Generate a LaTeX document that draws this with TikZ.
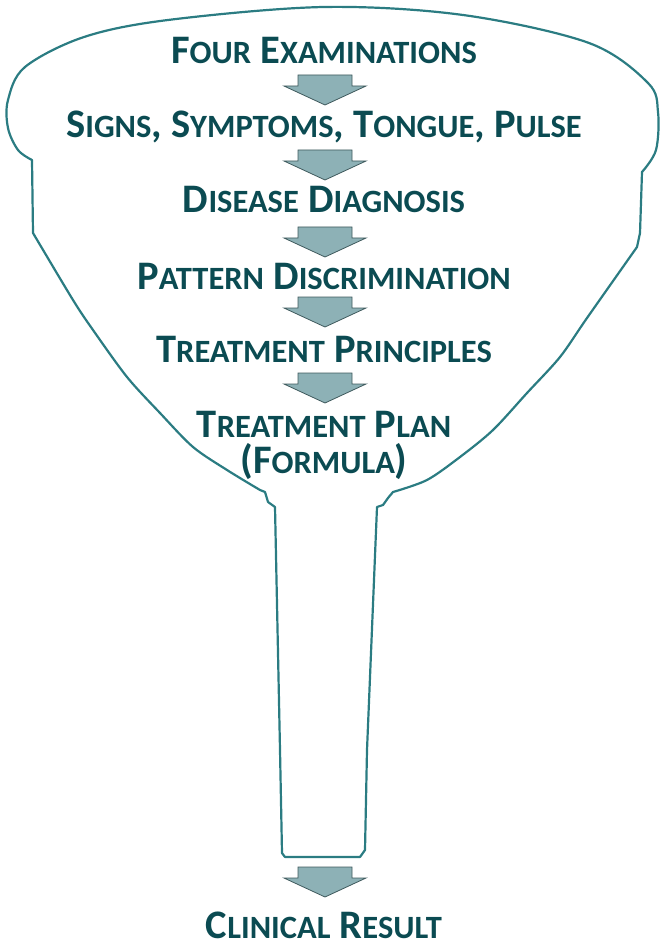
\documentclass[tikz,border=0pt]{standalone}
\usepackage{fontspec}
\setmainfont{Carlito}
\definecolor{txt}{HTML}{0B4B52}
\definecolor{outl}{HTML}{2B7C82}
\definecolor{arrfill}{HTML}{8DB1B6}
\definecolor{arredge}{HTML}{3F5A5D}
\newcommand\sml[1]{{\fontsize{32.5}{32.5}\selectfont #1}}
\tikzset{
  label text/.style={text=txt, anchor=base, inner sep=0pt, font=\bfseries\fontsize{40.5}{40.5}\selectfont},
  funnel/.style={draw=outl, line width=2.2pt, line join=round},
  flowarrow/.style={fill=arrfill, draw=arredge, line width=0.8pt, line join=miter}
}
\begin{document}
\begin{tikzpicture}[x=1pt,y=-1pt]
\useasboundingbox (0,0) rectangle (660,949);
% funnel outline
\draw[funnel] plot[smooth,tension=0.55] coordinates {(32,160)(18,150)(8,128)(8,100)(25,67)(84,37)(168,20)(324,7)(463,15)(589,43)(648,83)(658,112)(656,150)(642,172)}
  -- (640,233) -- (637,247)
  -- plot[smooth,tension=0.5] coordinates {(637,247)(587,318)(560,357)(527,393)(493,430)(460,457)(427,480)(393,492)}
  -- (388,498) -- (383,505) -- (377,507) -- (367,750) -- (365,850) -- (360,857) -- (285,857) -- (282,853) -- (280,750) -- (275,507) -- (268,502) -- (265,492)
  -- plot[smooth,tension=0.5] coordinates {(260,490)(227,470)(193,447)(160,413)(127,377)(93,330)(73,300)(33,233)}
  -- cycle;
% arrows
\foreach \y in {75,150,227,297,373,867}{
  \draw[flowarrow] (298,\y) -- (352,\y) -- (352,\y+11) -- (366,\y+11) -- (325,\y+30) -- (284,\y+11) -- (298,\y+11) -- cycle;
}
% texts
\node[label text] (t1) at (324,64) {F\sml{OUR} E\sml{XAMINATIONS}};
\node[label text] (t2) at (324,138) {S\sml{IGNS}, S\sml{YMPTOMS}, T\sml{ONGUE}, P\sml{ULSE}};
\node[label text] (t3) at (324,213) {D\sml{ISEASE} D\sml{IAGNOSIS}};
\node[label text] (t4) at (324,290) {P\sml{ATTERN} D\sml{ISCRIMINATION}};
\node[label text] (t5) at (324,362) {T\sml{REATMENT} P\sml{RINCIPLES}};
\node[label text] (t6) at (324,437) {T\sml{REATMENT} P\sml{LAN}};
\node[label text] (t7) at (324,473) {(F\sml{ORMULA})};
\node[label text] (t8) at (324,938) {C\sml{LINICAL} R\sml{ESULT}};
\end{tikzpicture}
\end{document}
